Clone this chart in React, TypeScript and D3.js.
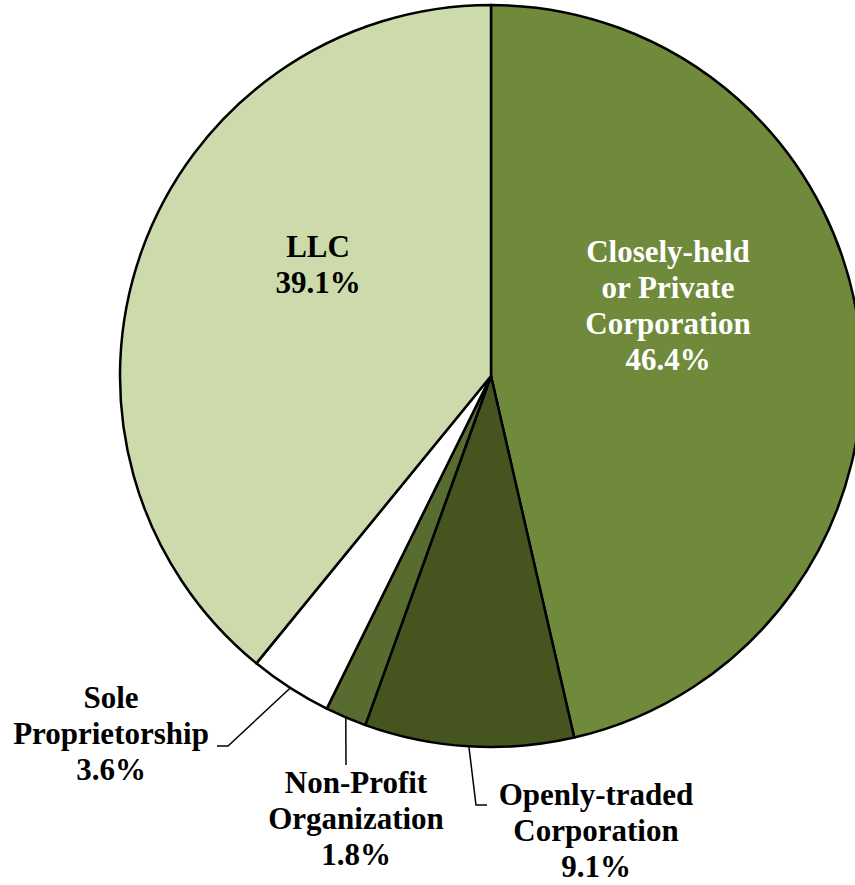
import * as d3 from 'd3';

// chart data
const categories = [
  'Closely-held|or Private|Corporation',
  'Openly-traded|Corporation',
  'Non-Profit|Organization',
  'Sole|Proprietorship',
  'LLC',
];
const shares = [46.4, 9.1, 1.8, 3.6, 39.1];
const colors = ['#6f8a3a', '#46541f', '#586c30', '#ffffff', '#cddbac'];
const labelColors = ['#ffffff', '#000000', '#000000', '#000000', '#000000'];

// label layout (center x, first baseline y), relative to the pie center
const labelPos: [number, number][] = [
  [177, -114],
  [105, 429],
  [-135, 417],
  [-380, 332],
  [-173, -119],
];
// leader line elbows, relative to pie center (null = label inside slice)
const leaders: ([number, number][] | null)[] = [
  null,
  [[-15, 429], [-4, 429]],
  [[-145, 389]],
  [[-263, 370], [-274, 370]],
  null,
];

const width = 855;
const height = 885;
const cx = 491;
const cy = 376;
const radius = 371;
const lineHeight = 36;

export default function App() {
  const pie = d3
    .pie<number>()
    .sort(null)
    .value((d) => d);
  const arcs = pie(shares);
  const arc = d3.arc<d3.PieArcDatum<number>>().innerRadius(0).outerRadius(radius);
  const edge = d3.arc<d3.PieArcDatum<number>>().innerRadius(radius).outerRadius(radius);

  return (
    <svg
      width={width}
      height={height}
      style={{ position: 'absolute', left: 0, top: 0, background: '#fff' }}
      fontFamily="'Liberation Serif', 'Times New Roman', serif"
    >
      <g transform={`translate(${cx},${cy})`}>
        {arcs.map((a, i) => (
          <path key={i} d={arc(a) || ''} fill={colors[i]} stroke="#000" strokeWidth={2.5} strokeLinejoin="round" />
        ))}
        {arcs.map((a, i) => {
          const pts = leaders[i];
          if (!pts) return null;
          const start = edge.centroid(a);
          const line = d3.line()([start as [number, number], ...pts]);
          return <path key={'l' + i} d={line || ''} fill="none" stroke="#000" strokeWidth={1.5} />;
        })}
        {categories.map((c, i) => {
          const lines = [...c.split('|'), `${shares[i].toFixed(1)}%`];
          const [lx, ly] = labelPos[i];
          return (
            <text
              key={'t' + i}
              x={lx}
              y={ly}
              textAnchor="middle"
              fontSize={31}
              fontWeight="bold"
              fill={labelColors[i]}
            >
              {lines.map((t, j) => (
                <tspan key={j} x={lx} y={ly + j * lineHeight}>
                  {t}
                </tspan>
              ))}
            </text>
          );
        })}
      </g>
    </svg>
  );
}
